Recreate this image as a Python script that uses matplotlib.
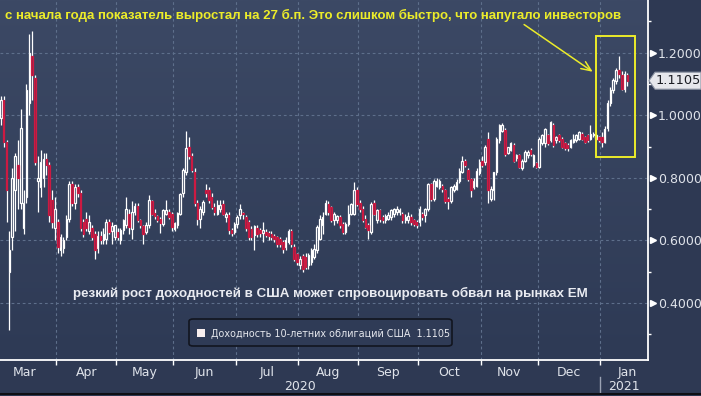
import matplotlib
matplotlib.use("Agg")
import matplotlib.pyplot as plt
import numpy as np
import pandas as pd
from matplotlib.patches import Polygon, Rectangle, FancyBboxPatch
from matplotlib.lines import Line2D
from matplotlib.colors import LinearSegmentedColormap
from matplotlib.transforms import blended_transform_factory

# ---------------- data ----------------
start_date = "2020-03-04"
end_date = "2021-01-15"
holidays = ["2020-04-10", "2020-05-25", "2020-07-03", "2020-09-07",
            "2020-11-26", "2020-12-25", "2021-01-01", "2021-01-18"]
month_names = ["Mar", "Apr", "May", "Jun", "Jul", "Aug", "Sep", "Oct", "Nov", "Dec", "Jan"]

opens = [
    0.99, 1.05, 0.915, 0.50, 0.61, 0.76, 0.84, 0.72, 0.64, 0.74, 1.04, 1.19, 1.12, 0.79, 0.77, 0.80, 0.86, 0.84, 0.73, 0.64,
    0.66, 0.57, 0.575, 0.61, 0.67, 0.78, 0.72, 0.77, 0.75, 0.66, 0.67, 0.63, 0.64, 0.62, 0.575, 0.615, 0.60, 0.606, 0.66, 0.63, 0.61,
    0.627, 0.60, 0.632, 0.648, 0.685, 0.637, 0.69, 0.709, 0.666, 0.645, 0.627, 0.648, 0.725, 0.688, 0.677, 0.67, 0.653, 0.685, 0.69, 0.685,
    0.637, 0.648, 0.686, 0.75, 0.82, 0.90, 0.87, 0.82, 0.72, 0.67, 0.69, 0.76, 0.76, 0.74, 0.708, 0.685, 0.70, 0.717, 0.675, 0.68, 0.632, 0.627,
    0.653, 0.68, 0.685, 0.675, 0.66, 0.637, 0.616, 0.64, 0.632, 0.625, 0.627, 0.625, 0.62, 0.615, 0.61, 0.605, 0.595, 0.58, 0.595, 0.63, 0.58, 0.557,
    0.52, 0.55, 0.547, 0.52, 0.53, 0.547, 0.568, 0.605, 0.648, 0.685, 0.717, 0.706, 0.664, 0.664, 0.675, 0.653, 0.627, 0.653, 0.685, 0.685, 0.76,
    0.72, 0.70, 0.67, 0.648, 0.627, 0.72, 0.664, 0.696, 0.675, 0.664, 0.67, 0.675, 0.685, 0.69, 0.69, 0.685, 0.664, 0.664, 0.675, 0.664, 0.66,
    0.66, 0.684, 0.68, 0.70, 0.78, 0.733, 0.775, 0.77, 0.775, 0.76, 0.733, 0.727, 0.76, 0.765, 0.79, 0.82, 0.855, 0.826, 0.797, 0.77, 0.775, 0.817,
    0.855, 0.85, 0.925, 0.733, 0.76, 0.818, 0.92, 0.95, 0.952, 0.88, 0.89, 0.904, 0.862, 0.872, 0.83, 0.855, 0.872, 0.888, 0.84, 0.846,
    0.835, 0.91, 0.91, 0.936, 0.92, 0.97, 0.92, 0.936, 0.925, 0.91, 0.904, 0.90, 0.915, 0.92, 0.925, 0.94, 0.93, 0.936, 0.925, 0.936, 0.925, 0.93,
    0.93, 0.915, 0.96, 1.04, 1.08, 1.11, 1.146, 1.128, 1.085, 1.128,
]
highs = [
    1.06, 1.06, 0.92, 0.63, 0.83, 0.88, 0.92, 1.02, 0.76, 1.10, 1.26, 1.27, 1.13, 0.87, 0.89, 0.88, 0.88, 0.85, 0.76, 0.74,
    0.67, 0.62, 0.61, 0.68, 0.79, 0.79, 0.78, 0.78, 0.76, 0.67, 0.69, 0.68, 0.65, 0.63, 0.63, 0.63, 0.64, 0.67, 0.67, 0.66, 0.65,
    0.64, 0.64, 0.67, 0.74, 0.70, 0.725, 0.72, 0.72, 0.67, 0.65, 0.66, 0.745, 0.73, 0.70, 0.68, 0.675, 0.70, 0.73, 0.70, 0.69,
    0.66, 0.69, 0.75, 0.83, 0.95, 0.93, 0.88, 0.83, 0.73, 0.71, 0.73, 0.78, 0.77, 0.75, 0.72, 0.73, 0.728, 0.728, 0.69, 0.69, 0.64, 0.66,
    0.68, 0.715, 0.69, 0.68, 0.665, 0.645, 0.65, 0.65, 0.64, 0.66, 0.635, 0.63, 0.63, 0.62, 0.615, 0.61, 0.60, 0.61, 0.637, 0.635, 0.59, 0.56,
    0.55, 0.555, 0.56, 0.56, 0.575, 0.59, 0.65, 0.68, 0.69, 0.73, 0.725, 0.71, 0.69, 0.68, 0.68, 0.66, 0.66, 0.712, 0.72, 0.787, 0.77,
    0.73, 0.71, 0.68, 0.655, 0.723, 0.73, 0.70, 0.70, 0.68, 0.685, 0.69, 0.70, 0.705, 0.71, 0.705, 0.69, 0.685, 0.69, 0.685, 0.67, 0.665,
    0.71, 0.69, 0.705, 0.785, 0.785, 0.795, 0.80, 0.795, 0.78, 0.765, 0.74, 0.775, 0.78, 0.795, 0.83, 0.87, 0.86, 0.83, 0.80, 0.80, 0.83, 0.86,
    0.87, 0.905, 0.947, 0.775, 0.82, 0.93, 0.973, 0.975, 0.96, 0.90, 0.915, 0.91, 0.875, 0.875, 0.86, 0.89, 0.89, 0.895, 0.875, 0.85,
    0.93, 0.94, 0.96, 0.94, 0.983, 0.975, 0.935, 0.94, 0.93, 0.915, 0.91, 0.925, 0.94, 0.94, 0.95, 0.945, 0.935, 0.94, 0.97, 0.945, 0.94, 0.935,
    0.945, 0.965, 1.05, 1.09, 1.12, 1.15, 1.188, 1.14, 1.14, 1.135,
]
lows = [
    0.97, 0.90, 0.66, 0.315, 0.57, 0.63, 0.70, 0.70, 0.62, 0.72, 1.00, 1.05, 0.84, 0.69, 0.74, 0.77, 0.81, 0.66, 0.64, 0.60,
    0.56, 0.55, 0.56, 0.60, 0.66, 0.71, 0.70, 0.74, 0.63, 0.61, 0.63, 0.62, 0.60, 0.54, 0.56, 0.59, 0.59, 0.59, 0.62, 0.59, 0.60,
    0.60, 0.59, 0.62, 0.64, 0.62, 0.605, 0.68, 0.66, 0.64, 0.59, 0.62, 0.64, 0.68, 0.67, 0.66, 0.625, 0.645, 0.68, 0.67, 0.63,
    0.63, 0.64, 0.68, 0.74, 0.81, 0.86, 0.82, 0.71, 0.65, 0.64, 0.68, 0.74, 0.72, 0.70, 0.68, 0.68, 0.69, 0.68, 0.66, 0.62, 0.615, 0.62,
    0.64, 0.67, 0.67, 0.63, 0.60, 0.60, 0.568, 0.61, 0.61, 0.595, 0.61, 0.60, 0.60, 0.595, 0.58, 0.58, 0.56, 0.57, 0.59, 0.58, 0.535, 0.52,
    0.51, 0.50, 0.51, 0.51, 0.52, 0.54, 0.56, 0.60, 0.62, 0.68, 0.68, 0.66, 0.65, 0.655, 0.64, 0.62, 0.62, 0.645, 0.68, 0.68, 0.71,
    0.69, 0.66, 0.64, 0.605, 0.62, 0.68, 0.655, 0.66, 0.655, 0.655, 0.665, 0.665, 0.675, 0.68, 0.68, 0.655, 0.655, 0.655, 0.65, 0.645, 0.64,
    0.645, 0.665, 0.66, 0.695, 0.725, 0.725, 0.77, 0.765, 0.755, 0.72, 0.70, 0.72, 0.755, 0.76, 0.785, 0.815, 0.835, 0.79, 0.74, 0.765, 0.77, 0.81,
    0.835, 0.84, 0.72, 0.725, 0.73, 0.81, 0.91, 0.945, 0.87, 0.875, 0.885, 0.85, 0.855, 0.83, 0.825, 0.85, 0.865, 0.87, 0.835, 0.83,
    0.83, 0.905, 0.90, 0.905, 0.915, 0.90, 0.91, 0.915, 0.895, 0.89, 0.885, 0.895, 0.91, 0.915, 0.92, 0.92, 0.91, 0.915, 0.92, 0.93, 0.92, 0.915,
    0.90, 0.91, 0.95, 1.03, 1.07, 1.10, 1.12, 1.08, 1.075, 1.095,
]
closes = [
    1.05, 0.915, 0.76, 0.57, 0.80, 0.87, 0.80, 0.96, 0.72, 1.08, 1.20, 1.13, 0.85, 0.80, 0.85, 0.86, 0.84, 0.68, 0.66, 0.70,
    0.58, 0.61, 0.60, 0.67, 0.78, 0.72, 0.77, 0.75, 0.64, 0.62, 0.64, 0.66, 0.61, 0.57, 0.615, 0.60, 0.62, 0.66, 0.627, 0.645, 0.65,
    0.61, 0.632, 0.664, 0.70, 0.643, 0.69, 0.71, 0.664, 0.648, 0.62, 0.648, 0.728, 0.685, 0.677, 0.666, 0.655, 0.696, 0.696, 0.675, 0.643,
    0.656, 0.688, 0.748, 0.825, 0.894, 0.87, 0.825, 0.72, 0.67, 0.70, 0.723, 0.75, 0.728, 0.706, 0.69, 0.712, 0.712, 0.685, 0.685, 0.632, 0.625, 0.653,
    0.675, 0.70, 0.684, 0.64, 0.61, 0.61, 0.645, 0.62, 0.625, 0.632, 0.617, 0.615, 0.61, 0.605, 0.59, 0.59, 0.574, 0.60, 0.63, 0.59, 0.54, 0.53,
    0.54, 0.51, 0.515, 0.552, 0.568, 0.573, 0.643, 0.67, 0.675, 0.72, 0.69, 0.664, 0.685, 0.677, 0.648, 0.627, 0.653, 0.685, 0.717, 0.76, 0.717,
    0.70, 0.664, 0.643, 0.632, 0.717, 0.685, 0.696, 0.67, 0.664, 0.677, 0.68, 0.696, 0.70, 0.70, 0.696, 0.664, 0.675, 0.677, 0.66, 0.653, 0.648,
    0.70, 0.674, 0.70, 0.78, 0.733, 0.79, 0.79, 0.79, 0.765, 0.727, 0.727, 0.77, 0.775, 0.786, 0.823, 0.855, 0.84, 0.797, 0.76, 0.79, 0.823, 0.85,
    0.84, 0.898, 0.76, 0.765, 0.818, 0.925, 0.968, 0.968, 0.877, 0.898, 0.91, 0.855, 0.872, 0.835, 0.855, 0.883, 0.883, 0.877, 0.872, 0.835,
    0.925, 0.936, 0.957, 0.91, 0.978, 0.905, 0.93, 0.92, 0.90, 0.894, 0.894, 0.92, 0.925, 0.936, 0.947, 0.925, 0.915, 0.92, 0.94, 0.94, 0.936, 0.92,
    0.915, 0.955, 1.04, 1.08, 1.112, 1.146, 1.133, 1.085, 1.133, 1.1105,
]
last_value = 1.1105
y_major = [0.4, 0.6, 0.8, 1.0, 1.2]
y_minor = [0.3, 0.5, 0.7, 0.9, 1.1, 1.3]
title_text = "с начала года показатель выростал на 27 б.п. Это слишком быстро, что напугало инвесторов"
note_text = "резкий рост доходностей в США может спровоцировать обвал на рынках EM"
legend_label = "Доходность 10-летних облигаций США"

# ---------------- style ----------------
W, H, DPI = 701, 396, 100
BG_TOP = "#3c4965"
BG_BOT = "#2e3a55"
BG_OUT = "#2e3953"
GRID = "#5e6f8b"
RED_FILL = "#9c1f46"
RED_EDGE = "#cc1a42"
YELLOW = "#ecec2a"
LABEL = "#dfe3ea"

def fx(px):
    return px / W

def fy(py):
    return 1 - py / H

hol = pd.to_datetime(holidays)
dates = pd.bdate_range(start_date, end_date)
dates = dates[~dates.isin(hol)]
n = len(closes)
assert len(dates) == n == len(opens) == len(highs) == len(lows)
x = np.arange(n)
O = np.array(opens); Hh = np.array(highs); L = np.array(lows); C = np.array(closes)

fig = plt.figure(figsize=(W / DPI, H / DPI), dpi=DPI)
fig.patch.set_facecolor(BG_OUT)
ax = fig.add_axes([0, fy(360), fx(648), fy(0) - fy(360)])

xlim = (-0.29, 227.2)
ylim = (0.2178, 1.3684)

# gradient background
grad = np.linspace(0, 1, 256).reshape(-1, 1)
cmap = LinearSegmentedColormap.from_list("bg", [BG_BOT, BG_TOP])
ax.imshow(grad, extent=[xlim[0], xlim[1], ylim[0], ylim[1]], cmap=cmap,
          aspect="auto", origin="lower", zorder=0, interpolation="bilinear")

# month boundaries
per = dates.to_period("M")
months = per.unique()
bounds = []
centers = []
for m in months:
    idx = np.where(per == m)[0]
    full = pd.bdate_range(m.start_time, m.end_time)
    full = full[~full.isin(hol)]
    nb = int((full < dates[0]).sum())
    na = int((full > dates[-1]).sum())
    centers.append((idx[0] - nb + idx[-1] + na) / 2.0)
    if idx[0] > 0:
        bounds.append(idx[0] - 0.5)

# grid
for b in bounds:
    ax.axvline(b, color=GRID, lw=0.8, ls=(0, (2.5, 2.5)), zorder=1)
for v in y_major:
    ax.axhline(v, color=GRID, lw=0.8, ls=(0, (2.5, 2.5)), zorder=1)

# candles
up = C >= O
top = np.maximum(O, C)
bot = np.minimum(O, C)
hgt = np.maximum(top - bot, 0.004)
ax.vlines(x, top, Hh, color="white", lw=0.9, zorder=3)
ax.vlines(x, L, bot, color="white", lw=0.9, zorder=3)
ax.bar(x[up], hgt[up], bottom=bot[up], width=0.55, facecolor="none",
       edgecolor="white", lw=0.9, zorder=4)
ax.bar(x[~up], hgt[~up], bottom=bot[~up], width=0.55, facecolor=RED_FILL,
       edgecolor=RED_EDGE, lw=0.9, zorder=4)

ax.set_xlim(*xlim)
ax.set_ylim(*ylim)

# spines / ticks
for s in ["top", "left"]:
    ax.spines[s].set_visible(False)
for s in ["bottom", "right"]:
    ax.spines[s].set_color("white")
    ax.spines[s].set_linewidth(1.3)
ax.set_xticks(bounds)
ax.set_xticklabels([])
ax.tick_params(axis="x", which="major", direction="out", length=3.5, width=1, color="white")
ax.set_xticks(centers, minor=True)
ax.set_xticklabels(month_names[:len(centers)], minor=True)
ax.tick_params(axis="x", which="minor", length=0, pad=4, labelsize=9, labelcolor=LABEL)

ax.yaxis.tick_right()
ax.set_yticks(y_major)
ax.set_yticklabels([f"{v:.4f}" for v in y_major])
ax.set_yticks(y_minor, minor=True)
ax.tick_params(axis="y", which="major", length=0, pad=7, labelsize=9, labelcolor=LABEL)
ax.tick_params(axis="y", which="minor", direction="out", length=2.5, width=1, color="white")

# triangle markers on right axis
tr = blended_transform_factory(ax.transAxes, ax.transData)
ax.plot([1.0 + 4.5 / 648] * len(y_major), y_major, marker=">", ms=4.2, color="white",
        ls="none", transform=tr, clip_on=False, zorder=6)

# year labels
jan_b = [b for b, m in zip(bounds, months[1:]) if m.month == 1]
jb = jan_b[0]
disp = ax.transData
def xpix(v):
    return fig.transFigure.inverted().transform(disp.transform((v, 0)))[0]
fig.text((0 + xpix(jb)) / 2, fy(390), str(months[0].year), ha="center", va="baseline",
         fontsize=9, color=LABEL)
fig.text((xpix(jb) + fx(648)) / 2, fy(390), str(months[-1].year), ha="center", va="baseline",
         fontsize=9, color=LABEL)
fig.add_artist(Line2D([xpix(jb), xpix(jb)], [fy(377), fy(393)], color="#9aa2b3", lw=1))
fig.add_artist(Line2D([0, 1], [fy(394), fy(394)], color="#0e0f14", lw=1.5))

# price tag
yc = fig.transFigure.inverted().transform(disp.transform((0, C[-1])))[1]
hh = 8.5 / H
tag = Polygon([[fx(649), yc], [fx(655), yc + hh], [fx(701), yc + hh], [fx(701), yc - hh],
               [fx(655), yc - hh]], closed=True, transform=fig.transFigure,
              facecolor="#e6e7ec", edgecolor="#8d94a4", lw=0.8, zorder=10)
fig.add_artist(tag)
fig.text(fx(656), yc, f"{last_value:.4f}", ha="left", va="center", fontsize=9.3,
         color="#1b1d24", zorder=11)

# yellow box + arrow
jan_idx = np.where(dates.month == 1)[0]
bx0 = jan_idx[0] - 1.9
bx1 = jan_idx[-1] + 2.6
by0 = L[jan_idx].min() - 0.033
by1 = Hh[jan_idx].max() + 0.066
ax.add_patch(Rectangle((bx0, by0), bx1 - bx0, by1 - by0, fill=False, edgecolor=YELLOW,
                       lw=1.4, zorder=7))
ax.annotate("", xy=(bx0 - 1.3, 1.139), xytext=(183.7, 1.29),
            arrowprops=dict(arrowstyle="->,head_length=0.7,head_width=0.3", color=YELLOW,
                            lw=1.1, shrinkA=0, shrinkB=0), zorder=7)

# texts
fig.text(fx(5), fy(18.5), title_text, ha="left", va="baseline", fontsize=9.55,
         fontweight="bold", color=YELLOW, family="Liberation Sans")
fig.text(fx(73), fy(296.5), note_text, ha="left", va="baseline", fontsize=9.6,
         fontweight="bold", color="#e9ebf1", family="Liberation Sans")

# legend box
lb = FancyBboxPatch((fx(189), fy(346)), fx(452) - fx(189), fy(319) - fy(346),
                    boxstyle="round,pad=0,rounding_size=0.006", transform=fig.transFigure,
                    facecolor="#2f3b56", edgecolor="#12151f", lw=1.2, zorder=8)
fig.add_artist(lb)
fig.add_artist(Rectangle((fx(197), fy(337)), 8 / W, 8 / H, transform=fig.transFigure,
                         facecolor="#f7eeee", edgecolor="none", zorder=9))
fig.text(fx(211), fy(336.5), f"{legend_label}  {last_value:.4f}", ha="left", va="baseline",
         fontsize=6.9, color="#e6e8ee", zorder=9)

fig.savefig("out.png", dpi=DPI, facecolor=fig.get_facecolor())
